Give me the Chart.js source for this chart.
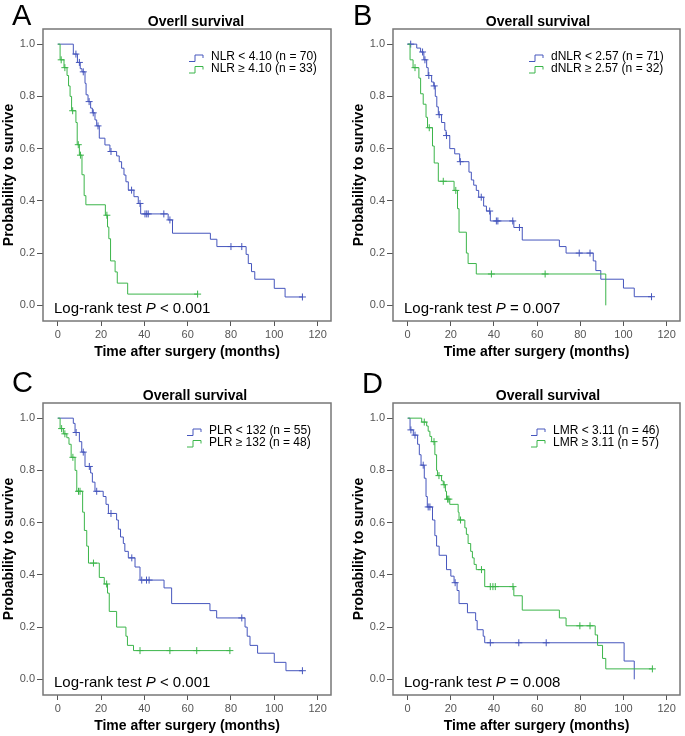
<!DOCTYPE html>
<html>
<head>
<meta charset="utf-8">
<script src="https://cdn.jsdelivr.net/npm/chart.js@4.4.0/dist/chart.umd.min.js"></script>
<style>
  body { margin: 0; background: #fff; }
  #wrap { position: relative; width: 685px; height: 736px; }
  canvas { position: absolute; }
</style>
</head>
<body>
<div id="wrap">
  <canvas id="chartA" width="342" height="362" style="left:0;top:0"></canvas>
  <canvas id="chartB" width="335" height="362" style="left:350px;top:0"></canvas>
  <canvas id="chartC" width="342" height="374" style="left:0;top:362px"></canvas>
  <canvas id="chartD" width="335" height="374" style="left:350px;top:362px"></canvas>
</div>
<script>
// axis ticks
const xTicks = [0, 20, 40, 60, 80, 100, 120];
const yTicks = [0, 0.2, 0.4, 0.6, 0.8, 1.0];

// A: NLR
const nlrLowT = [0, 7.2, 9.1, 10.4, 11.2, 12.6, 13.1, 14.0, 15.2, 16.0, 17.2, 18.0, 19.2, 21.8, 24.1, 27.2, 28.4, 29.5, 30.6, 31.5, 32.6, 35.2, 37.2, 38.3, 51.0, 53.0, 70.5, 73.5, 87.0, 88.0, 89.5, 91.0, 100.0, 105.0, 113.0];
const nlrLowS = [1, 0.962, 0.93, 0.906, 0.894, 0.85, 0.806, 0.78, 0.755, 0.737, 0.71, 0.687, 0.64, 0.614, 0.589, 0.572, 0.55, 0.525, 0.499, 0.473, 0.441, 0.416, 0.39, 0.35, 0.327, 0.276, 0.253, 0.225, 0.195, 0.16, 0.129, 0.10, 0.065, 0.032, 0.032];
const nlrLowCensT = [8.4, 10.0, 11.8, 14.5, 16.4, 18.6, 24.6, 34.1, 38.0, 40.3, 41.1, 41.8, 49.0, 51.8, 80.0, 85.0, 113.0];
const nlrLowCensS = [0.962, 0.93, 0.894, 0.78, 0.737, 0.687, 0.589, 0.441, 0.39, 0.35, 0.35, 0.35, 0.35, 0.327, 0.225, 0.225, 0.032];
const nlrHighT = [0, 1.1, 2.9, 4.3, 5.0, 5.7, 6.4, 8.4, 9.0, 10.0, 11.2, 12.2, 13.0, 22.0, 23.0, 23.6, 24.4, 26.5, 27.5, 32.3, 64.6];
const nlrHighS = [1, 0.94, 0.91, 0.88, 0.84, 0.80, 0.745, 0.70, 0.615, 0.575, 0.50, 0.42, 0.385, 0.345, 0.30, 0.255, 0.17, 0.128, 0.085, 0.043, 0.043];
const nlrHighCensT = [1.6, 3.3, 6.9, 9.5, 10.5, 22.7, 64.6];
const nlrHighCensS = [0.94, 0.91, 0.745, 0.615, 0.575, 0.345, 0.043];

// B: dNLR
const dnlrLowT = [0, 4.2, 6.0, 7.5, 8.8, 9.5, 11.1, 12.1, 12.8, 13.5, 14.2, 15.7, 17.2, 17.8, 19.5, 21.8, 24.1, 28.4, 29.5, 30.6, 31.8, 32.9, 35.2, 36.5, 38.3, 49.2, 53.1, 70.3, 73.4, 86.0, 87.2, 89.5, 100.0, 105.0, 113.0];
const dnlrLowS = [1, 0.985, 0.97, 0.94, 0.91, 0.88, 0.855, 0.84, 0.80, 0.76, 0.73, 0.70, 0.67, 0.65, 0.60, 0.58, 0.55, 0.51, 0.48, 0.46, 0.44, 0.414, 0.38, 0.361, 0.323, 0.298, 0.25, 0.225, 0.20, 0.17, 0.133, 0.10, 0.066, 0.033, 0.033];
const dnlrLowCensT = [1.4, 6.9, 8.0, 9.8, 12.3, 14.6, 18.0, 24.4, 34.1, 38.0, 41.1, 41.8, 48.7, 51.8, 79.5, 84.5, 113.0];
const dnlrLowCensS = [1.0, 0.97, 0.94, 0.88, 0.84, 0.73, 0.65, 0.55, 0.414, 0.361, 0.323, 0.323, 0.323, 0.298, 0.20, 0.20, 0.033];
const dnlrHighT = [0, 1.1, 2.5, 5.2, 6.0, 7.2, 8.5, 9.2, 11.5, 12.3, 14.2, 21.5, 23.1, 23.8, 27.2, 28.0, 31.8, 91.8];
const dnlrHighS = [1, 0.94, 0.91, 0.87, 0.81, 0.77, 0.72, 0.68, 0.61, 0.545, 0.475, 0.44, 0.37, 0.28, 0.20, 0.16, 0.12, 0.0];
const dnlrHighCensT = [3.4, 10.0, 16.5, 22.3, 38.8, 63.7];
const dnlrHighCensS = [0.91, 0.68, 0.475, 0.44, 0.12, 0.12];

// C: PLR
const plrLowT = [0, 7.2, 8.0, 10.0, 11.1, 12.6, 15.2, 16.0, 17.2, 21.0, 22.3, 23.4, 27.2, 28.0, 29.0, 30.3, 31.0, 32.6, 35.7, 38.0, 49.1, 52.6, 70.3, 73.4, 86.5, 87.5, 88.8, 92.3, 100.0, 105.4, 113.0];
const plrLowS = [1, 0.98, 0.945, 0.91, 0.87, 0.815, 0.79, 0.755, 0.72, 0.70, 0.67, 0.635, 0.61, 0.575, 0.545, 0.52, 0.49, 0.465, 0.43, 0.38, 0.35, 0.29, 0.263, 0.235, 0.20, 0.165, 0.13, 0.10, 0.065, 0.033, 0.033];
const plrLowCensT = [8.5, 11.8, 14.6, 18.0, 24.6, 34.2, 38.8, 41.0, 42.2, 85.0, 113.0];
const plrLowCensS = [0.945, 0.87, 0.815, 0.72, 0.635, 0.465, 0.38, 0.38, 0.38, 0.235, 0.033];
const plrHighT = [0, 1.1, 2.6, 4.2, 5.2, 6.2, 8.0, 8.8, 11.5, 12.3, 13.4, 14.2, 19.2, 21.5, 23.0, 23.8, 27.2, 31.5, 32.2, 35.0, 79.5];
const plrHighS = [1, 0.96, 0.94, 0.925, 0.90, 0.85, 0.80, 0.72, 0.64, 0.57, 0.51, 0.445, 0.39, 0.365, 0.33, 0.26, 0.20, 0.165, 0.13, 0.11, 0.11];
const plrHighCensT = [1.8, 3.3, 7.0, 9.6, 10.3, 16.5, 22.6, 38.0, 51.8, 64.2, 79.5];
const plrHighCensS = [0.96, 0.94, 0.85, 0.72, 0.72, 0.445, 0.365, 0.11, 0.11, 0.11, 0.11];

// D: LMR
const lmrLowT = [0, 1.1, 2.6, 4.6, 5.4, 6.2, 7.7, 8.5, 9.1, 11.5, 12.6, 13.4, 14.6, 18.0, 20.0, 21.5, 22.9, 23.8, 27.7, 31.5, 32.2, 35.0, 35.7, 100.3, 105.0];
const lmrLowS = [1, 0.955, 0.935, 0.90, 0.86, 0.82, 0.77, 0.70, 0.66, 0.61, 0.55, 0.51, 0.475, 0.42, 0.395, 0.37, 0.34, 0.29, 0.255, 0.225, 0.19, 0.165, 0.14, 0.07, 0.0];
const lmrLowCensT = [1.5, 3.4, 7.2, 9.5, 10.3, 22.0, 38.3, 51.5, 64.2];
const lmrLowCensS = [0.955, 0.935, 0.82, 0.66, 0.66, 0.37, 0.14, 0.14, 0.14];
const lmrHighT = [0, 6.5, 8.8, 9.5, 10.3, 11.1, 12.6, 13.4, 13.8, 15.7, 16.5, 17.5, 18.0, 19.5, 23.4, 23.8, 26.5, 27.2, 28.0, 29.2, 30.0, 30.8, 31.8, 35.7, 49.2, 53.1, 70.3, 73.4, 86.9, 88.0, 90.3, 91.8, 113.4];
const lmrHighS = [1, 0.985, 0.97, 0.95, 0.93, 0.91, 0.86, 0.80, 0.78, 0.76, 0.745, 0.72, 0.69, 0.67, 0.64, 0.61, 0.58, 0.555, 0.52, 0.49, 0.465, 0.44, 0.42, 0.355, 0.32, 0.265, 0.235, 0.205, 0.17, 0.13, 0.08, 0.04, 0.04];
const lmrHighCensT = [7.7, 12.2, 14.5, 16.9, 18.5, 19.1, 24.5, 34.2, 38.3, 39.5, 40.6, 48.8, 79.8, 84.5, 113.4];
const lmrHighCensS = [0.985, 0.91, 0.78, 0.745, 0.69, 0.69, 0.61, 0.42, 0.355, 0.355, 0.355, 0.355, 0.205, 0.205, 0.04];

const BLUE = '#4656bd';
const GREEN = '#3bb54a';
const FRAME = '#777777';
const TICK = '#555555';
const LABEL = '#555555';
const FONT = '"Liberation Sans", Arial, sans-serif';

Chart.defaults.font.family = FONT;

const panels = [
  { id: 'chartA', letter: 'A', letterX: 12, letterY: 25, top: 29, right: 11, titleDX: 153,
    title: 'Overll survival', legend: ['NLR < 4.10 (n = 70)', 'NLR \u2265 4.10 (n = 33)'], legendDX: 168, pText: ' < 0.001',
    blue: [nlrLowT, nlrLowS, nlrLowCensT, nlrLowCensS], green: [nlrHighT, nlrHighS, nlrHighCensT, nlrHighCensS] },
  { id: 'chartB', letter: 'B', letterX: 3, letterY: 25, top: 29, right: 4, titleDX: 145,
    title: 'Overall survival', legend: ['dNLR < 2.57 (n = 71)', 'dNLR \u2265 2.57 (n = 32)'], legendDX: 158, pText: ' = 0.007',
    blue: [dnlrLowT, dnlrLowS, dnlrLowCensT, dnlrLowCensS], green: [dnlrHighT, dnlrHighS, dnlrHighCensT, dnlrHighCensS] },
  { id: 'chartC', letter: 'C', letterX: 12, letterY: 30, top: 41, right: 11, titleDX: 152,
    title: 'Overall survival', legend: ['PLR < 132 (n = 55)', 'PLR \u2265 132 (n = 48)'], legendDX: 166, pText: ' < 0.001',
    blue: [plrLowT, plrLowS, plrLowCensT, plrLowCensS], green: [plrHighT, plrHighS, plrHighCensT, plrHighCensS] },
  { id: 'chartD', letter: 'D', letterX: 12, letterY: 31, top: 41, right: 4, titleDX: 155,
    title: 'Overall survival', legend: ['LMR < 3.11 (n = 46)', 'LMR \u2265 3.11 (n = 57)'], legendDX: 160, pText: ' = 0.008',
    blue: [lmrLowT, lmrLowS, lmrLowCensT, lmrLowCensS], green: [lmrHighT, lmrHighS, lmrHighCensT, lmrHighCensS] }
];

function toXY(t, s) {
  return t.map((x, i) => ({ x: x, y: s[i] }));
}

// frame, panel letter, title, legend and log-rank text
const overlayPlugin = {
  id: 'overlay',
  afterDraw(chart, args, o) {
    const ctx = chart.ctx;
    const a = chart.chartArea;
    ctx.save();
    ctx.strokeStyle = FRAME;
    ctx.lineWidth = 1.5;
    ctx.strokeRect(a.left, a.top, a.right - a.left, a.bottom - a.top);

    ctx.fillStyle = '#000';
    ctx.textAlign = 'left';
    ctx.textBaseline = 'alphabetic';
    ctx.font = '29px ' + FONT;
    ctx.fillText(o.letter, o.letterX, o.letterY);

    ctx.textAlign = 'center';
    ctx.textBaseline = 'middle';
    ctx.font = 'bold 14px ' + FONT;
    ctx.fillText(o.title, a.left + o.titleDX, a.top - 7);

    ctx.textAlign = 'left';
    ctx.font = '12px ' + FONT;
    const cols = [BLUE, GREEN];
    o.legend.forEach((txt, i) => {
      const cy = a.top + 28 + i * 11.5;
      const tx = a.left + o.legendDX;
      const x0 = tx - 22;
      ctx.strokeStyle = cols[i];
      ctx.lineWidth = 1;
      ctx.beginPath();
      ctx.moveTo(x0, cy + 4.5);
      ctx.lineTo(x0 + 6, cy + 4.5);
      ctx.lineTo(x0 + 6, cy - 2);
      ctx.lineTo(x0 + 14, cy - 2);
      ctx.lineTo(x0 + 14, cy + 1);
      ctx.stroke();
      ctx.fillStyle = '#000';
      ctx.fillText(txt, tx, cy);
    });

    ctx.textBaseline = 'alphabetic';
    let x = a.left + 11;
    const y = a.top + 284;
    ctx.font = '15px ' + FONT;
    ctx.fillText('Log-rank test ', x, y);
    x += ctx.measureText('Log-rank test ').width;
    ctx.font = 'italic 15px ' + FONT;
    ctx.fillText('P', x, y);
    x += ctx.measureText('P').width;
    ctx.font = '15px ' + FONT;
    ctx.fillText(o.pText, x, y);
    ctx.restore();
  }
};

function makeChart(p) {
  const canvas = document.getElementById(p.id);
  const stepLine = (arr, color) => ({
    data: toXY(arr[0], arr[1]), stepped: 'before', borderColor: color, borderWidth: 1,
    pointRadius: 0, fill: false
  });
  const censor = (arr, color) => ({
    data: toXY(arr[2], arr[3]), showLine: false, pointStyle: 'cross', pointRadius: 3.5,
    borderColor: color, borderWidth: 1
  });
  new Chart(canvas, {
    type: 'line',
    data: {
      datasets: [
        stepLine(p.green, GREEN), censor(p.green, GREEN),
        stepLine(p.blue, BLUE), censor(p.blue, BLUE)
      ]
    },
    options: {
      responsive: false,
      animation: false,
      events: [],
      layout: { padding: { top: p.top, right: p.right, left: 0, bottom: 1 } },
      scales: {
        x: {
          type: 'linear', min: -6.8, max: 126.2,
          afterBuildTicks: s => { s.ticks = xTicks.map(v => ({ value: v })); },
          afterFit: s => { s.height = 40; },
          grid: { drawOnChartArea: false, tickLength: 5, color: TICK },
          border: { display: false },
          ticks: { padding: 2, color: LABEL, font: { size: 11 }, maxRotation: 0 },
          title: { display: true, text: 'Time after surgery (months)', color: '#000',
                   font: { size: 14, weight: 'bold' }, padding: { top: 0, bottom: 0.6 } }
        },
        y: {
          min: -0.06, max: 1.058,
          afterBuildTicks: s => { s.ticks = yTicks.map(v => ({ value: v })); },
          afterFit: s => { s.width = 43; },
          grid: { drawOnChartArea: false, tickLength: 6, color: TICK },
          border: { display: false },
          ticks: { padding: 2, color: LABEL, font: { size: 11 }, callback: v => v.toFixed(1) },
          title: { display: true, text: 'Probability to survive', color: '#000',
                   font: { size: 14, weight: 'bold' }, padding: { top: 0.5, bottom: 0 } }
        }
      },
      plugins: {
        legend: { display: false },
        tooltip: { enabled: false },
        overlay: {
          letter: p.letter, letterX: p.letterX, letterY: p.letterY, title: p.title,
          titleDX: p.titleDX, legend: p.legend, legendDX: p.legendDX, pText: p.pText
        }
      }
    },
    plugins: [overlayPlugin]
  });
}

panels.forEach(makeChart);
</script>
</body>
</html>
